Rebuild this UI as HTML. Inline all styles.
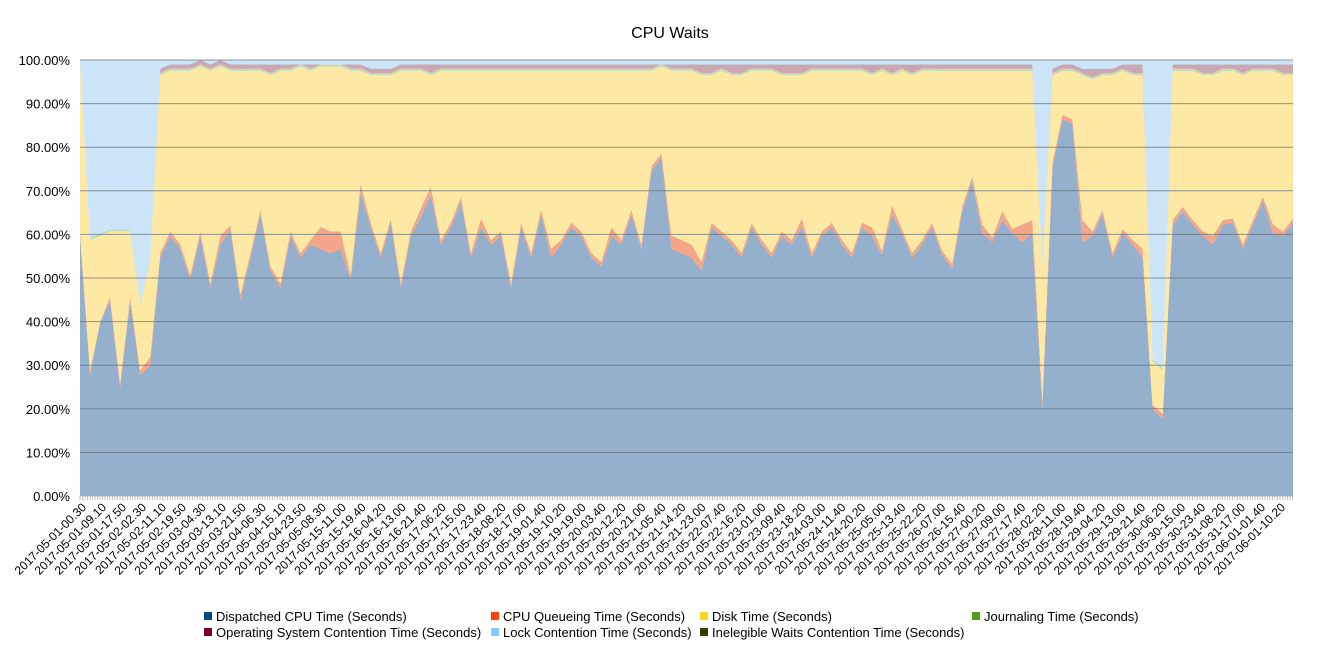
<!DOCTYPE html>
<html><head><meta charset="utf-8"><style>
body{margin:0;background:#fff;font-family:"Liberation Sans",sans-serif}
svg text{font-family:"Liberation Sans",sans-serif;fill:#000}
</style></head><body>
<svg id="chart" width="1340" height="650">
<text x="670" y="38" text-anchor="middle" font-size="16">CPU Waits</text>
<g id="areas"></g>
<g id="grid"></g>
<g id="yaxis"></g>
<g id="xaxis"></g>
<g id="legend"></g>
</svg>
<script>
const xLabels=["2017-05-01-00.30","2017-05-01-09.10","2017-05-01-17.50","2017-05-02-02.30","2017-05-02-11.10","2017-05-02-19.50","2017-05-03-04.30","2017-05-03-13.10","2017-05-03-21.50","2017-05-04-06.30","2017-05-04-15.10","2017-05-04-23.50","2017-05-05-08.30","2017-05-15-11.00","2017-05-15-19.40","2017-05-16-04.20","2017-05-16-13.00","2017-05-16-21.40","2017-05-17-06.20","2017-05-17-15.00","2017-05-17-23.40","2017-05-18-08.20","2017-05-18-17.00","2017-05-19-01.40","2017-05-19-10.20","2017-05-19-19.00","2017-05-20-03.40","2017-05-20-12.20","2017-05-20-21.00","2017-05-21-05.40","2017-05-21-14.20","2017-05-21-23.00","2017-05-22-07.40","2017-05-22-16.20","2017-05-23-01.00","2017-05-23-09.40","2017-05-23-18.20","2017-05-24-03.00","2017-05-24-11.40","2017-05-24-20.20","2017-05-25-05.00","2017-05-25-13.40","2017-05-25-22.20","2017-05-26-07.00","2017-05-26-15.40","2017-05-27-00.20","2017-05-27-09.00","2017-05-27-17.40","2017-05-28-02.20","2017-05-28-11.00","2017-05-28-19.40","2017-05-29-04.20","2017-05-29-13.00","2017-05-29-21.40","2017-05-30-06.20","2017-05-30-15.00","2017-05-30-23.40","2017-05-31-08.20","2017-05-31-17.00","2017-06-01-01.40","2017-06-01-10.20"];
const yTicks=[0,10,20,30,40,50,60,70,80,90,100];
const dispatched=[60,28,40,45,25,45,28,30,55,60,57,50,60,48,58,62,45,55,65,52,48,60,55,58,57,56,57,50,70,62,55,63,48,60,65,70,58,62,68,55,62,58,60,48,62,55,65,55,58,62,60,55,53,60,58,65,57,75,78,57,56,55,52,62,60,58,55,62,58,55,60,58,62,55,60,62,58,55,62,60,55,65,60,55,58,62,55,52,65,72,60,58,63,60,58,60,20,75,86,85,58,60,65,55,60,58,55,20,18,62,65,62,60,58,62,63,57,62,68,60,60,63];
const queueing=[1,1,0,1,1,1,1,2,1,1,1,1,1,1,2,1,1,1,1,1,1,1,1,1,5,5,4,1,2,1,1,1,1,1,2,2,1,1,1,1,2,1,1,1,1,1,1,2,1,1,1,1,1,2,1,1,1,1,1,3,3,3,2,1,1,1,1,1,1,1,1,1,2,1,1,1,1,1,1,2,1,2,1,1,1,1,1,1,1,1,2,1,2,1,4,3,2,1,1,1,5,1,1,1,1,1,2,1,1,1,1,1,1,2,1,1,1,1,1,2,1,1];
const disk=[39,30,20,15,35,15,15,22,41,37,40,47,38,49,39,36,51,42,32,44,49,37,43,39,37,38,38,47,26,34,41,33,49,37,32,26,39,35,29,42,34,39,37,49,35,42,32,41,39,35,37,42,44,36,39,32,40,22,20,38,39,40,43,34,37,38,41,35,39,42,36,38,33,42,37,35,39,42,35,35,41,30,36,41,39,35,41,44,31,24,35,38,32,36,35,34,30,20,10,11,33,35,31,41,36,38,40,10,10,34,31,34,36,37,34,34,39,34,29,35,36,33];
const osContention=[0,0,0,0,0,0,0,0,1,1,1,1,1,1,1,1,1,1,1,2,1,1,0,1,0,0,0,1,1,1,1,1,1,1,1,2,1,1,1,1,1,1,1,1,1,1,1,1,1,1,1,1,1,1,1,1,1,1,0,1,1,1,2,2,1,2,2,1,1,1,2,2,2,1,1,1,1,1,1,2,1,2,1,2,1,1,1,1,1,1,1,1,1,1,1,1,0,1,1,1,1,2,1,1,1,2,2,0,0,1,1,1,2,2,1,1,2,1,1,1,2,2];
const lockCont=[0,41,40,39,39,39,56,46,2,1,1,1,0,1,0,1,1,1,1,1,1,1,1,1,1,1,1,1,1,2,2,2,1,1,1,1,1,1,1,1,1,1,1,1,1,1,1,1,1,1,1,1,1,1,1,1,1,1,1,1,1,1,1,1,1,1,1,1,1,1,1,1,1,1,1,1,1,1,1,1,1,1,1,1,1,1,1,1,1,1,1,1,1,1,1,1,47,2,1,1,2,2,2,2,1,1,1,69,71,1,1,1,1,1,1,1,1,1,1,1,1,1];
const journaling=dispatched.map(()=>0.5);
const inelegible=dispatched.map(()=>0);

const NS="http://www.w3.org/2000/svg";
const X0=80,X1=1293,Y0=496,Y1=60;
const n=dispatched.length;
const xs=i=>X0+(X1-X0)*i/(n-1);
const ys=p=>Y0-(Y0-Y1)*p/100;
function mk(tag,attrs,parent){const e=document.createElementNS(NS,tag);for(const k in attrs)e.setAttribute(k,attrs[k]);parent.appendChild(e);return e;}

const series=[
 {name:"Dispatched CPU Time (Seconds)",v:dispatched,fill:"#95b0cd",lc:"#004586",dn:"series-dispatched"},
 {name:"CPU Queueing Time (Seconds)",v:queueing,fill:"#f4a68a",lc:"#ff420e",dn:"series-queueing"},
 {name:"Disk Time (Seconds)",v:disk,fill:"#fde9a3",lc:"#ffd320",dn:"series-disk"},
 {name:"Journaling Time (Seconds)",v:journaling,fill:"#c9dca8",lc:"#579d1c",dn:"series-journaling"},
 {name:"Operating System Contention Time (Seconds)",v:osContention,fill:"#c9a8b2",lc:"#7e0021",dn:"series-os-contention"},
 {name:"Lock Contention Time (Seconds)",v:lockCont,fill:"#cde5f8",lc:"#83caff",dn:"series-lock-contention"},
 {name:"Inelegible Waits Contention Time (Seconds)",v:inelegible,fill:"#9aa38a",lc:"#314004",dn:"series-inelegible"}
];
const totals=dispatched.map((_,i)=>series.reduce((s,S)=>s+S.v[i],0));
const areas=document.getElementById('areas');
let base=dispatched.map(()=>0);
series.forEach(S=>{
  const top=base.map((b,i)=>b+(totals[i]?S.v[i]/totals[i]*100:0));
  let pts=[];
  for(let i=0;i<n;i++)pts.push(xs(i)+","+ys(top[i]));
  for(let i=n-1;i>=0;i--)pts.push(xs(i)+","+ys(base[i]));
  const p=mk('polygon',{points:pts.join(' '),fill:S.fill,stroke:'none'},areas);
  
  
  base=top;
});
const grid=document.getElementById('grid');
const yaxis=document.getElementById('yaxis');
yTicks.forEach(t=>{
  const l=mk('line',{x1:X0,x2:X1,y1:ys(t),y2:ys(t),stroke:'#5f6b78','stroke-opacity':0.7,'stroke-width':1},grid);
  
  
  const tx=mk('text',{x:70,y:ys(t)+5,'text-anchor':'end','font-size':13},yaxis);
  tx.textContent=t.toFixed(2)+"%";
  
  
});
const xaxis=document.getElementById('xaxis');
mk('line',{x1:X0,x2:X1,y1:Y0,y2:Y0,stroke:'#b3b3b3'},xaxis);
let tk="";
for(let x=X0;x<=X1;x+=2.5)tk+=`M${x.toFixed(1)},${Y0}v4`;
mk('path',{d:tk,stroke:'#b3b3b3','stroke-width':0.8},xaxis);
xLabels.forEach((s,i)=>{
  const x=87+(1286-87)*i/(xLabels.length-1), y=508;
  const t=mk('text',{x:x,y:y,'text-anchor':'end','font-size':12,transform:`rotate(-45 ${x} ${y})`},xaxis);
  t.textContent=s;
  
  
});
const legend=document.getElementById('legend');
const lpos=[[204,621],[491,621],[700,621],[972,621],[204,637],[491,637],[700,637]];
series.forEach((S,i)=>{
  const [x,y]=lpos[i];
  const g=mk('g',{},legend);
  
  
  mk('rect',{x:x,y:y-9,width:8,height:8,fill:S.lc},g);
  const t=mk('text',{x:x+12,y:y,'font-size':13},g);
  t.textContent=S.name;
});
</script>
</body></html>
